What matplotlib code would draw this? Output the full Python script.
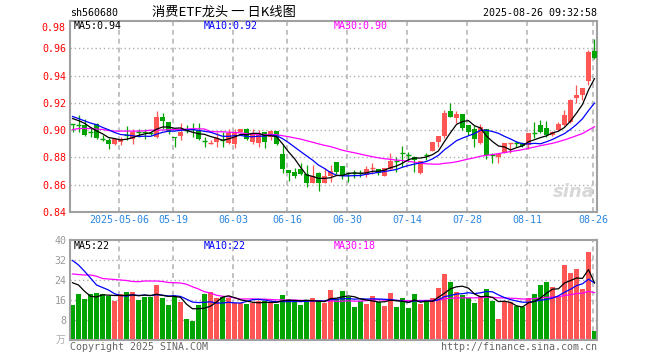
import numpy as np
import pandas as pd
import matplotlib
matplotlib.use("Agg")
import matplotlib.pyplot as plt
from matplotlib.transforms import offset_copy

# ---------------- data ----------------
symbol = "sh560680"
title = "消费ETF龙头 一 日K线图"
timestamp = "2025-08-26 09:32:58"

opens = [
    0.9043, 0.9042, 0.9037, 0.8989, 0.9044, 0.8935, 0.8927, 0.8897, 0.8914, 0.8969,
    0.8932, 0.8989, 0.8989, 0.8977, 0.8951, 0.9093, 0.9061, 0.8951, 0.8956, 0.9005,
    0.9008, 0.8995, 0.8919, 0.8907, 0.8915, 0.8927, 0.8907, 0.8902, 0.8988, 0.9005,
    0.8910, 0.8907, 0.8983, 0.8951, 0.8993, 0.8824, 0.8707, 0.8690, 0.8714, 0.8678,
    0.8614, 0.8683, 0.8614, 0.8663, 0.8766, 0.8737, 0.8689, 0.8684, 0.8690, 0.8668,
    0.8724, 0.8712, 0.8664, 0.8714, 0.8777, 0.8831, 0.8820, 0.8806, 0.8683, 0.8819,
    0.8849, 0.8914, 0.8955, 0.9141, 0.9091, 0.9118, 0.9038, 0.9006, 0.8903, 0.9006,
    0.8820, 0.8801, 0.8830, 0.8907, 0.8904, 0.8908, 0.8891, 0.8978, 0.9038, 0.9018,
    0.8964, 0.9001, 0.9038, 0.9062, 0.9238, 0.9257, 0.9363, 0.9580]
closes = [
    0.9040, 0.9040, 0.8968, 0.8987, 0.8939, 0.8933, 0.8902, 0.8932, 0.8934, 0.8967,
    0.8988, 0.8987, 0.8987, 0.8975, 0.9098, 0.9068, 0.8988, 0.8939, 0.8988, 0.9003,
    0.9006, 0.8932, 0.8917, 0.8909, 0.8946, 0.8925, 0.8980, 0.8988, 0.9005, 0.8934,
    0.8975, 0.8980, 0.8915, 0.8993, 0.8897, 0.8714, 0.8687, 0.8665, 0.8678, 0.8614,
    0.8663, 0.8614, 0.8663, 0.8702, 0.8695, 0.8667, 0.8688, 0.8682, 0.8686, 0.8712,
    0.8726, 0.8688, 0.8722, 0.8774, 0.8775, 0.8829, 0.8818, 0.8781, 0.8774, 0.8817,
    0.8912, 0.8956, 0.9125, 0.9099, 0.9118, 0.9018, 0.8989, 0.8937, 0.9020, 0.8818,
    0.8818, 0.8825, 0.8903, 0.8909, 0.8902, 0.8884, 0.8977, 0.8976, 0.8989, 0.8964,
    0.8989, 0.9045, 0.9111, 0.9221, 0.9257, 0.9306, 0.9575, 0.9526]
highs = [
    0.9043, 0.9110, 0.9085, 0.9024, 0.9049, 0.8963, 0.8939, 0.8934, 0.8951, 0.9029,
    0.9005, 0.9005, 0.9012, 0.8990, 0.9142, 0.9122, 0.9061, 0.8951, 0.9049, 0.9037,
    0.9049, 0.9049, 0.8951, 0.8925, 0.8988, 0.8988, 0.9012, 0.9012, 0.9005, 0.9017,
    0.9005, 0.9000, 0.8990, 0.8993, 0.8995, 0.8895, 0.8707, 0.8720, 0.8756, 0.8744,
    0.8744, 0.8690, 0.8720, 0.8744, 0.8766, 0.8737, 0.8690, 0.8705, 0.8710, 0.8736,
    0.8756, 0.8712, 0.8722, 0.8830, 0.8800, 0.8884, 0.8840, 0.8812, 0.8774, 0.8830,
    0.8912, 0.8956, 0.9145, 0.9201, 0.9143, 0.9118, 0.9040, 0.9030, 0.9045, 0.9006,
    0.8830, 0.8825, 0.8908, 0.8909, 0.8920, 0.8910, 0.8977, 0.9062, 0.9074, 0.9069,
    0.8995, 0.9062, 0.9148, 0.9226, 0.9331, 0.9306, 0.9587, 0.9665]
lows = [
    0.8988, 0.8988, 0.8960, 0.8951, 0.8932, 0.8922, 0.8861, 0.8890, 0.8890, 0.8927,
    0.8897, 0.8951, 0.8932, 0.8965, 0.8946, 0.9005, 0.8971, 0.8878, 0.8927, 0.8976,
    0.8951, 0.8927, 0.8873, 0.8895, 0.8873, 0.8878, 0.8897, 0.8866, 0.8988, 0.8927,
    0.8900, 0.8880, 0.8871, 0.8930, 0.8890, 0.8683, 0.8629, 0.8650, 0.8670, 0.8580,
    0.8610, 0.8556, 0.8610, 0.8620, 0.8680, 0.8640, 0.8622, 0.8650, 0.8660, 0.8660,
    0.8680, 0.8670, 0.8664, 0.8705, 0.8695, 0.8732, 0.8770, 0.8691, 0.8680, 0.8783,
    0.8845, 0.8880, 0.8940, 0.9095, 0.9055, 0.9001, 0.8965, 0.8879, 0.8898, 0.8786,
    0.8762, 0.8762, 0.8830, 0.8835, 0.8880, 0.8880, 0.8859, 0.8940, 0.8980, 0.8952,
    0.8960, 0.8995, 0.9030, 0.9050, 0.9201, 0.9221, 0.9331, 0.9519]
volumes = [
    14.0, 18.4, 16.4, 18.4, 18.8, 18.4, 17.7, 15.7, 18.4, 19.2,
    19.2, 16.0, 17.2, 17.2, 22.0, 16.8, 14.0, 17.2, 15.3, 8.4,
    7.6, 14.0, 18.4, 19.2, 16.8, 17.2, 16.8, 14.8, 14.8, 14.4,
    14.8, 15.6, 15.6, 14.8, 14.4, 18.0, 16.4, 15.6, 14.0, 15.6,
    16.8, 15.6, 14.8, 20.0, 16.4, 19.6, 17.3, 13.2, 15.6, 14.4,
    17.6, 15.2, 13.6, 18.8, 13.2, 16.8, 12.8, 18.4, 14.4, 15.2,
    16.8, 20.8, 26.4, 23.2, 19.2, 18.0, 16.8, 14.8, 17.6, 20.4,
    15.6, 8.4, 15.6, 15.2, 13.6, 13.2, 16.8, 18.4, 22.0, 23.2,
    21.2, 17.6, 30.0, 26.8, 28.4, 20.4, 35.2, 3.6]

# moving-average values at the start of the window (read from the picture,
# where the window before the first visible candle is not shown)
ma5_head = [0.9085, 0.9070, 0.9050, 0.9020]
ma10_head = [0.9100, 0.9085, 0.9068, 0.9052, 0.9040, 0.9020, 0.9003, 0.8983, 0.8968]
ma30_head = [0.9003, 0.9012, 0.9012, 0.9012, 0.9008, 0.9005, 0.8997, 0.8993, 0.8993,
             0.8993, 0.8993, 0.8993, 0.8995, 0.9000, 0.9000, 0.9001, 0.9003, 0.9005,
             0.9005, 0.9008, 0.9010, 0.9010, 0.9008, 0.8990, 0.8988, 0.8988, 0.8985,
             0.8983, 0.8980]
vma5_head = [22.9, 22.0, 19.5, 17.5]
vma10_head = [31.8, 30.0, 27.5, 24.8, 22.0, 21.0, 20.0, 18.5, 17.8]
vma30_head = [26.4, 26.2, 26.0, 26.0, 25.5, 24.6, 24.4, 24.2, 24.0, 23.8, 23.4,
              23.3, 23.6, 23.6, 23.6, 23.4, 23.0, 22.9, 22.8, 22.3, 21.3, 20.4,
              19.3, 18.8, 17.9, 17.5, 17.3, 16.8, 16.4]

date_labels = ["2025-05-06", "05-19", "06-03", "06-16", "06-30",
               "07-14", "07-28", "08-11", "08-26"]
date_index = [8, 17, 27, 36, 46, 56, 66, 76, 87]
price_ticks = [0.84, 0.86, 0.88, 0.90, 0.92, 0.94, 0.96, 0.98]
vol_ticks = [8, 16, 24, 32, 40]

# ---------------- helpers ----------------
def moving_average(values, n, head):
    s = pd.Series(values, dtype=float).rolling(n).mean()
    s.iloc[:len(head)] = head
    return s.values

ma5 = moving_average(closes, 5, ma5_head)
ma10 = moving_average(closes, 10, ma10_head)
ma30 = moving_average(closes, 30, ma30_head)
vma5 = moving_average(volumes, 5, vma5_head)
vma10 = moving_average(volumes, 10, vma10_head)
vma30 = moving_average(volumes, 30, vma30_head)

RED = "#ff5555"
GREEN = "#00a400"
GRID = "#b0b0b0"
FRAME = "#a0a0a0"
MONO = "DejaVu Sans Mono"
FS = 7.2
LW = 0.9

W, H = 660, 360
fig = plt.figure(figsize=(W / 100, H / 100), dpi=100)
fig.patch.set_facecolor("white")

def px_axes(l, t, r, b):
    return fig.add_axes([l / W, 1 - b / H, (r - l) / W, (b - t) / H])

def ftext(x, y, s, **kw):
    fig.text(x / W, 1 - y / H, s, **kw)

ax = px_axes(70, 21, 597, 212)
axv = px_axes(70, 240, 597, 340)

n = len(closes)
x = np.arange(n)
xlim = (-0.42, n - 1 + 0.42)
grid_x = [d - 0.25 for d in date_index]

for a in (ax, axv):
    a.set_xlim(*xlim)
    for sp in a.spines.values():
        sp.set_color(FRAME)
        sp.set_linewidth(1.5)
    a.tick_params(length=0)
    for gx in grid_x:
        a.axvline(gx, color=GRID, lw=1.1, ls=(0, (3.2, 2.6)), zorder=0)

# ---------------- price panel ----------------
ax.set_ylim(0.84, 0.98)
for yv in price_ticks[1:-1]:
    ax.axhline(yv, color=GRID, lw=1.0, ls=(0, (1, 2)), zorder=0)
ax.set_yticks(price_ticks)
# the top label sits just below the frame edge, as in the original
ax.set_yticklabels([f"{v:.2f}" for v in price_ticks[:-1]] + [""], color="red",
                   fontsize=FS, family=MONO)
ax.tick_params(axis="y", pad=2.5)
top_tr = offset_copy(ax.get_yaxis_transform(), fig=fig, x=-3.5, y=-1.5, units="points")
ax.text(0, price_ticks[-1], f"{price_ticks[-1]:.2f}", transform=top_tr,
        ha="right", va="top", color="red", fontsize=FS, family=MONO)
ax.set_xticks(grid_x)
ax.set_xticklabels(date_labels, color="#2a86e0", fontsize=FS, family=MONO)
ax.tick_params(axis="x", pad=2.5)

bw = 0.76
for i in range(n):
    o, c, h, l = opens[i], closes[i], highs[i], lows[i]
    col = RED if c >= o else GREEN
    ax.vlines(x[i], l, h, color=col, lw=0.9, zorder=2)
    if abs(c - o) < 0.0006:
        ax.hlines((o + c) / 2, x[i] - bw / 2, x[i] + bw / 2, color=col, lw=1.0, zorder=3)
    else:
        ax.bar(x[i], abs(c - o), bottom=min(o, c), width=bw, color=col,
               linewidth=0, zorder=3)

ax.plot(x, ma30, color="#ff00ff", lw=LW, zorder=4)
ax.plot(x, ma10, color="#0000ff", lw=LW, zorder=4)
ax.plot(x, ma5, color="black", lw=LW, zorder=4)

ax.text(0.995, 0.06, "sina", transform=ax.transAxes, ha="right", va="bottom",
        fontsize=13, fontweight="bold", style="italic", color="#d8d8d8", zorder=1)

# ---------------- volume panel ----------------
axv.set_ylim(0, 40)
for yv in vol_ticks[:-1]:
    axv.axhline(yv, color=GRID, lw=1.0, ls=(0, (1, 2)), zorder=0)
axv.set_yticks(vol_ticks)
axv.set_yticklabels([str(v) for v in vol_ticks], color="#999999",
                    fontsize=FS, family=MONO)
axv.tick_params(axis="y", pad=2.5)
axv.set_xticks(grid_x)
axv.set_xticklabels([])
vcols = [RED if closes[i] >= opens[i] else GREEN for i in range(n)]
axv.bar(x, volumes, width=0.83, color=vcols, linewidth=0, zorder=2)
axv.plot(x, vma30, color="#ff00ff", lw=LW, zorder=4)
axv.plot(x, vma10, color="#0000ff", lw=LW, zorder=4)
axv.plot(x, vma5, color="black", lw=LW, zorder=4)

# ---------------- texts ----------------
ftext(70, 13, symbol, fontsize=FS, family=MONO, va="center", ha="left")
ftext(224, 12.5, title, fontsize=9.5, family=["Noto Sans CJK SC", "DejaVu Sans"],
      va="center", ha="center")
ftext(597, 13, timestamp, fontsize=FS, family=MONO, va="center", ha="right")

ftext(74, 26, f"MA5:{ma5[-1]:.2f}", fontsize=FS, family=MONO, va="center", color="black")
ftext(204, 26, f"MA10:{ma10[-1]:.2f}", fontsize=FS, family=MONO, va="center", color="#0000ff")
ftext(334, 26, f"MA30:{ma30[-1]:.2f}", fontsize=FS, family=MONO, va="center", color="#ff00ff")

ftext(74, 246, f"MA5:{int(vma5[-1])}", fontsize=FS, family=MONO, va="center", color="black")
ftext(204, 246, f"MA10:{int(vma10[-1])}", fontsize=FS, family=MONO, va="center", color="#0000ff")
ftext(334, 246, f"MA30:{int(vma30[-1])}", fontsize=FS, family=MONO, va="center", color="#ff00ff")

ftext(65, 340, "万", fontsize=7, family=["Noto Sans CJK SC", "DejaVu Sans"],
      va="center", ha="right", color="#aaaaaa")
ftext(70, 347, "Copyright 2025 SINA.COM", fontsize=FS, family=MONO,
      va="center", ha="left", color="#666666")
ftext(597, 347, "http://finance.sina.com.cn", fontsize=FS, family=MONO,
      va="center", ha="right", color="#666666")

fig.savefig("out.png", dpi=100)
